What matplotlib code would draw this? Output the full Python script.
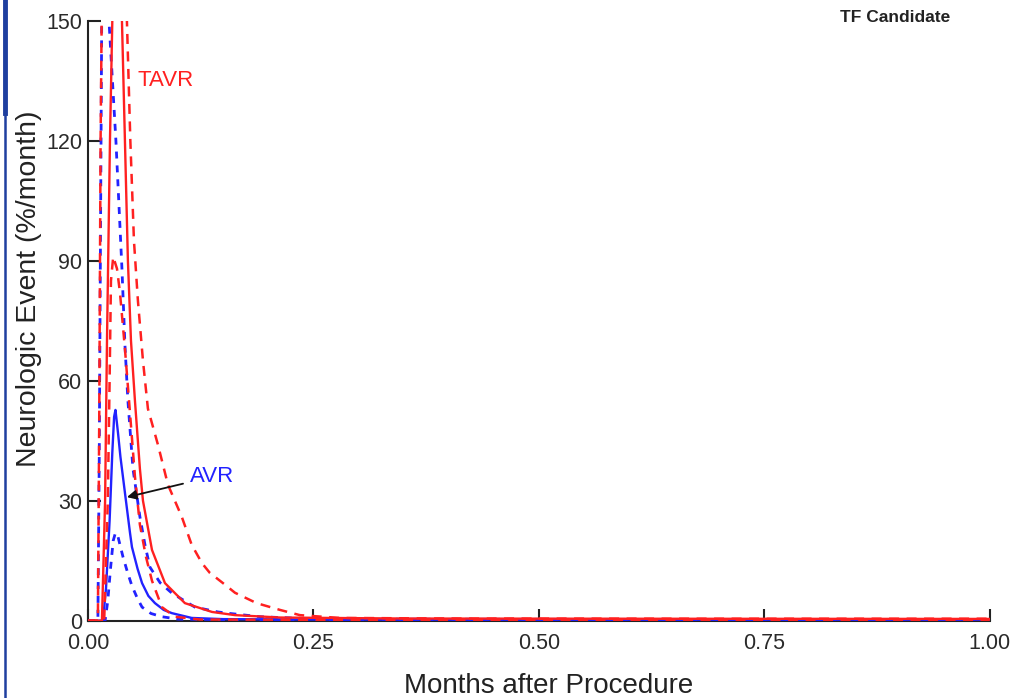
import matplotlib
matplotlib.use("Agg")
import matplotlib.pyplot as plt
from matplotlib.lines import Line2D

plt.rcParams['font.family'] = ['Liberation Sans', 'DejaVu Sans']

# months after procedure / hazard (%/month)
avr_x = [0, 0.011, 0.0166, 0.020, 0.024, 0.027, 0.029, 0.0305, 0.0333, 0.036, 0.041,
         0.0466, 0.0488, 0.055, 0.060, 0.067, 0.0743, 0.084, 0.093, 0.115, 0.15, 0.25, 0.5, 0.75, 1.0]
avr_y = [0, 0, 0, 8, 25, 42, 51, 52.7, 47, 41, 32,
         22, 18.4, 13, 9.4, 6.2, 4.4, 2.7, 1.9, 0.7, 0.4, 0.3, 0.25, 0.25, 0.25]

avr_lo_x = [0, 0.011, 0.019, 0.022, 0.025, 0.028, 0.0305, 0.0333, 0.0388, 0.044, 0.0488,
            0.055, 0.060, 0.070, 0.082, 0.10, 0.2, 0.5, 1.0]
avr_lo_y = [0, 0, 0, 5, 13, 20, 22, 21, 16, 12, 8.7,
            5.5, 3.4, 1.8, 1.0, 0.4, 0.15, 0.1, 0.1]

avr_hi_x = [0, 0.011, 0.0125, 0.014, 0.0155, 0.019, 0.0233, 0.031, 0.0377, 0.041, 0.0443,
            0.0499, 0.0576, 0.0632, 0.0687, 0.080, 0.0931, 0.1186, 0.144, 0.154, 0.191,
            0.235, 0.30, 0.5, 1.0]
avr_hi_y = [0, 0, 40, 100, 160, 190, 150, 120, 88, 69, 55,
            38, 26, 19, 13.4, 9.5, 6.9, 3.4, 2.2, 1.9, 1.0,
            0.6, 0.4, 0.35, 0.3]

tavr_x = [0, 0.011, 0.0155, 0.019, 0.0211, 0.0244, 0.027, 0.031, 0.035, 0.0377, 0.041,
          0.0443, 0.0477, 0.0521, 0.0576, 0.061, 0.071, 0.0854, 0.1075, 0.1375, 0.163,
          0.213, 0.35, 0.6, 1.0]
tavr_y = [0, 0, 0, 30, 70, 120, 150, 175, 170, 150, 120,
          90, 70, 55, 38, 30, 17.7, 9.4, 4.4, 2.2, 1.4,
          0.8, 0.55, 0.5, 0.45]

tavr_lo_x = [0, 0.011, 0.018, 0.022, 0.024, 0.0255, 0.028, 0.0322, 0.0355, 0.041, 0.0466,
             0.0521, 0.0576, 0.0643, 0.071, 0.082, 0.0965, 0.124, 0.3, 1.0]
tavr_lo_y = [0, 0, 0, 30, 60, 85, 91, 88, 82, 68, 52,
             36, 24, 16, 10, 3.4, 1.0, 0.3, 0.2, 0.2]

tavr_hi_x = [0, 0.011, 0.0125, 0.014, 0.016, 0.025, 0.0432, 0.047, 0.051, 0.0554, 0.061,
             0.0665, 0.0776, 0.0887, 0.104, 0.115, 0.1264, 0.135, 0.152, 0.163, 0.187,
             0.213, 0.235, 0.279, 0.4, 0.7, 1.0]
tavr_hi_y = [0, 0, 50, 120, 170, 220, 150, 120, 95, 80, 65,
             53, 44, 34, 26, 19, 14.4, 12, 9, 7, 4.4,
             2.7, 1.4, 0.7, 0.55, 0.5, 0.5]

x_ticks = [0, 0.25, 0.5, 0.75, 1.0]
x_tick_labels = ['0.00', '0.25', '0.50', '0.75', '1.00']
y_ticks = [0, 30, 60, 90, 120, 150]

red = '#ff2020'
blue = '#2222ff'

fig = plt.figure(figsize=(10.11, 6.98), dpi=100)
ax = fig.add_axes([0.087, 0.1107, 0.892, 0.8596])

ax.plot(avr_lo_x, avr_lo_y, color=blue, lw=2.0, dashes=(2.5, 2.5), zorder=3)
ax.plot(avr_hi_x, avr_hi_y, color=blue, lw=2.0, dashes=(2.5, 2.5), zorder=3)
ax.plot(avr_x, avr_y, color=blue, lw=1.7, zorder=3)
ax.plot(tavr_lo_x, tavr_lo_y, color=red, lw=1.8, dashes=(4, 3), zorder=3)
ax.plot(tavr_hi_x, tavr_hi_y, color=red, lw=1.8, dashes=(4, 3), zorder=3)
ax.plot(tavr_x, tavr_y, color=red, lw=1.7, zorder=3)

ax.set_xlim(0, 1.0)
ax.set_ylim(0, 150)
ax.set_xticks(x_ticks)
ax.set_xticklabels(x_tick_labels)
ax.set_yticks(y_ticks)
for s in ['top', 'right']:
    ax.spines[s].set_visible(False)
for s in ['left', 'bottom']:
    ax.spines[s].set_linewidth(1.5)
    ax.spines[s].set_color('#222222')
ax.tick_params(axis='both', direction='in', length=9, width=1.5, color='#222222',
               labelsize=15.5, labelcolor='#2a2a2a')
ax.tick_params(axis='x', pad=9)
ax.tick_params(axis='y', pad=4)

ax.text(0.0554, 135, 'TAVR', color=red, fontsize=16, va='center', ha='left')
ax.annotate('AVR', xy=(0.0432, 30.9), xytext=(0.113, 36), color=blue, fontsize=16,
            va='center', ha='left',
            arrowprops=dict(arrowstyle='-|>', color='#111111', lw=1.3,
                            shrinkA=3, shrinkB=0, mutation_scale=14))

fig.text(0.885, 1 - 18 / 698, 'TF Candidate', fontsize=12.5, fontweight='bold',
         ha='center', va='center', color='#222222')
fig.text(549 / 1011, 1 - 693 / 698, 'Months after Procedure', fontsize=20,
         ha='center', va='baseline', color='#222222')
fig.text(29 / 1011, 1 - 289 / 698, 'Neurologic Event (%/month)', fontsize=20.5,
         rotation=90, ha='center', va='center', color='#222222')

# blue frame edge on the left of the original scan
fig.add_artist(Line2D([5 / 1011, 5 / 1011], [0, 1], color='#1f3f9f', lw=1.8,
                      transform=fig.transFigure))
fig.add_artist(Line2D([4.5 / 1011, 4.5 / 1011], [1 - 113 / 698, 1], color='#1f3f9f', lw=3.5,
                      transform=fig.transFigure))

fig.savefig('out.png', dpi=100)
